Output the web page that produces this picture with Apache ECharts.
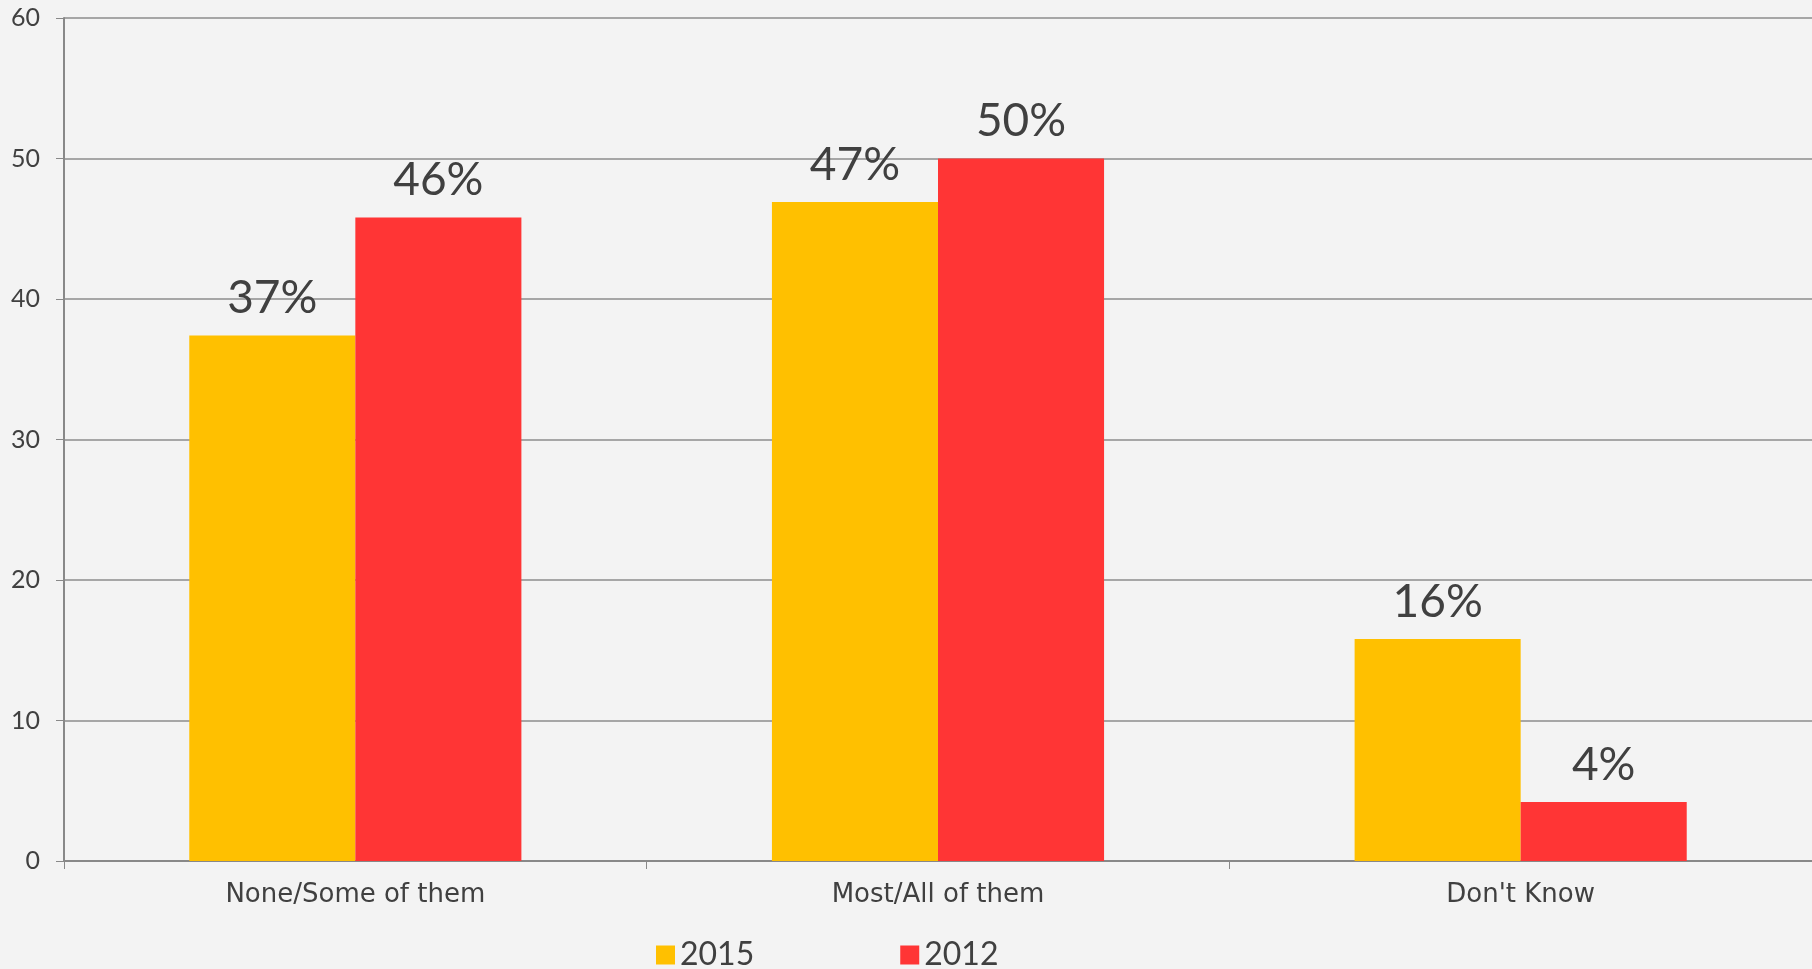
<!DOCTYPE html>
<html>
<head>
<meta charset="utf-8">
<script src="https://cdn.jsdelivr.net/npm/echarts@6/dist/echarts.min.js"></script>
<style>
  html, body { margin: 0; padding: 0; background: #f3f3f3; }
  #main { width: 1812px; height: 969px; }
</style>
</head>
<body>
<div id="main"></div>
<script>
// data
var categories = ['None/Some of them', 'Most/All of them', "Don't Know"];
var seriesNames = ['2015', '2012'];
var values2015 = [37.4, 46.9, 15.8];
var values2012 = [45.8, 50.0, 4.2];
var yTicks = { min: 0, max: 60, interval: 10 };

var colors = ['#FFC000', '#FF3535'];
var font = 'Lato';
var axisFont = 'DejaVu Sans';
var textColor = '#404040';

var chart = echarts.init(document.getElementById('main'));

function barSeries(name, data, color) {
  return {
    name: name,
    type: 'bar',
    data: data,
    barGap: '0%',
    barCategoryGap: '43%',
    itemStyle: { color: color },
    label: {
      show: true,
      position: 'top',
      distance: 14,
      fontFamily: font,
      fontSize: 46,
      color: textColor,
      formatter: function (p) { return Math.round(p.value) + '%'; }
    }
  };
}

chart.setOption({
  backgroundColor: '#f3f3f3',
  animation: false,
  grid: { left: 64, right: -4, top: 18, bottom: 108 },
  legend: {
    left: 651,
    top: 934,
    itemWidth: 19,
    itemHeight: 19,
    itemGap: 146,
    icon: 'rect',
    textStyle: { fontFamily: font, fontSize: 32, color: textColor },
    data: seriesNames
  },
  xAxis: {
    type: 'category',
    data: categories,
    axisLine: { lineStyle: { color: '#888', width: 2 } },
    axisTick: { show: true, length: 8, lineStyle: { color: '#888', width: 1 } },
    axisLabel: { fontFamily: axisFont, fontSize: 26, color: textColor, margin: 21 }
  },
  yAxis: {
    type: 'value',
    min: yTicks.min,
    max: yTicks.max,
    interval: yTicks.interval,
    axisLine: { show: true, lineStyle: { color: '#888', width: 2 } },
    axisTick: { show: true, length: 8, lineStyle: { color: '#888', width: 1 } },
    axisLabel: { fontFamily: font, fontSize: 25, color: textColor, margin: 24 },
    splitLine: { lineStyle: { color: '#8c8c8c', width: 1.5 } }
  },
  series: [
    barSeries(seriesNames[0], values2015, colors[0]),
    barSeries(seriesNames[1], values2012, colors[1])
  ]
});
</script>
</body>
</html>
